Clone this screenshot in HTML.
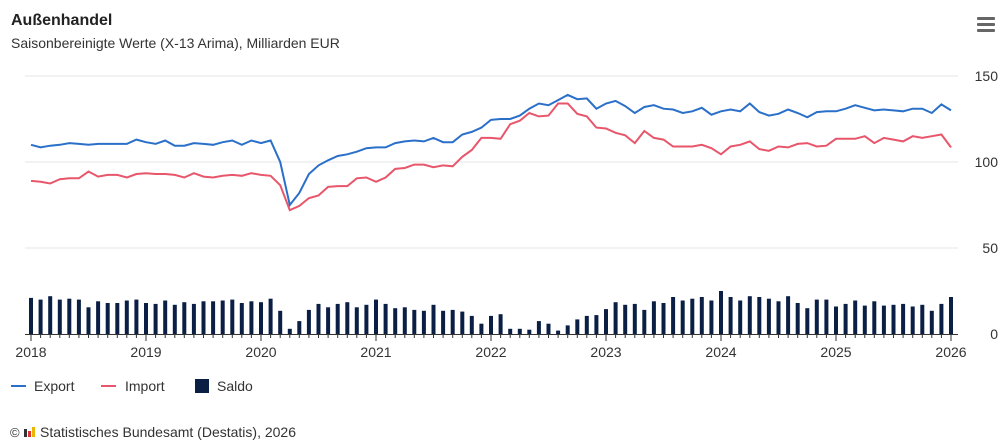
<!DOCTYPE html>
<html><head><meta charset="utf-8"><style>
body{margin:0;background:#fff;font-family:"Liberation Sans",sans-serif;}
svg{display:block}
</style></head><body>
<svg id="c" width="1000" height="446" xmlns="http://www.w3.org/2000/svg" font-family="Liberation Sans, sans-serif">
<text x="11" y="25" font-size="16" font-weight="bold" fill="#222">Außenhandel</text>
<text x="11" y="48" font-size="14" fill="#333">Saisonbereinigte Werte (X-13 Arima), Milliarden EUR</text>
<g fill="#666"><rect x="977" y="17" width="18" height="3" rx="1"/><rect x="977" y="23" width="18" height="3" rx="1"/><rect x="977" y="29" width="18" height="3" rx="1"/></g>
<g stroke="#e6e6e6" stroke-width="1">
<line x1="25" x2="958" y1="76" y2="76"/><line x1="25" x2="958" y1="162" y2="162"/><line x1="25" x2="958" y1="248" y2="248"/>
</g>
<g font-size="14" fill="#333" text-anchor="end">
<text x="998" y="81">150</text><text x="998" y="167">100</text><text x="998" y="253">50</text><text x="998" y="339">0</text>
</g>
<g id="bars" fill="#0b1f45"></g>
<g id="ticks" stroke="#333"></g>
<line x1="25" x2="958" y1="334.5" y2="334.5" stroke="#333" stroke-width="1"/>
<polyline id="imp" fill="none" stroke="#e8566b" stroke-width="2"/>
<polyline id="exp" fill="none" stroke="#2a70c9" stroke-width="2"/>
<g id="yl" font-size="14" fill="#333" text-anchor="middle"></g>
<line x1="11" x2="26" y1="386" y2="386" stroke="#2a70c9" stroke-width="2"/>
<text x="34" y="391" font-size="14" fill="#333">Export</text>
<line x1="101" x2="116" y1="386" y2="386" stroke="#e8566b" stroke-width="2"/>
<text x="125" y="391" font-size="14" fill="#333">Import</text>
<rect x="195" y="379" width="14" height="14" fill="#0b1f45"/>
<text x="217" y="391" font-size="14" fill="#333">Saldo</text>
<text x="10" y="437" font-size="13" fill="#333">©</text>
<rect x="24" y="429" width="3" height="8" fill="#333"/><rect x="28" y="431" width="3" height="6" fill="#d33"/><rect x="32" y="427" width="3" height="10" fill="#e8b500"/>
<text x="40" y="437" font-size="14" fill="#333">Statistisches Bundesamt (Destatis), 2026</text>
</svg>
<script>
var E=[110,108.5,109.5,110,111,110.5,110,110.5,110.5,110.5,110.5,113,
111.5,110.5,112.5,109.5,109.5,111,110.5,110,111.5,112.5,110,112.5,
111,112.5,100,75,82,93,98,101,103.5,104.5,106,108,
108.5,108.5,111,112,112.5,112,114,111.5,111.5,116,117.5,120,
124.5,125,125,127,131,134,133,136,139,136.5,137,131,
134,135.5,132.5,128.5,132,133,131,130.5,128.5,129.5,131.5,127.5,
129.5,130.5,129.5,134,129,127,128,130.5,128.5,126,129,129.5,
129.5,131,133,131.5,130,130.5,130,129.5,131,131,128.5,133.5,130];
var I=[89,88.5,87.5,90,90.5,90.5,94.5,91.5,92.5,92.5,91,93,
93.5,93,93,92.5,91,93.5,91.5,91,92,92.5,92,93.5,
92.5,92,86.5,72,74.5,79,80.5,85.5,86,86,90.5,91,
88.5,91,96,96.5,98.5,98.5,97,98,97.5,103,107,114,
114,113.5,122,124,128.5,126.5,127,134,134,128,126.5,120,
119.5,117,115.5,111,118,114,113,109,109,109,110,108,
104.5,109,110,112,107.5,106.5,109,108.5,110.5,111,109,109.5,
113.5,113.5,113.5,115,111,114,113,112,115,114,115,116,108.5];
var x0=31,st=920/96,k=1.72,b=334;
function X(i){return x0+i*st}function Y(v){return b-v*k}
var ns="http://www.w3.org/2000/svg";
document.getElementById('exp').setAttribute('points',E.map(function(v,i){return X(i).toFixed(1)+','+Y(v).toFixed(1)}).join(' '));
document.getElementById('imp').setAttribute('points',I.map(function(v,i){return X(i).toFixed(1)+','+Y(v).toFixed(1)}).join(' '));
var bg=document.getElementById('bars'),tg=document.getElementById('ticks'),yl=document.getElementById('yl');
for(var i=0;i<97;i++){var s=Math.max(E[i]-I[i],2);var r=document.createElementNS(ns,'rect');
r.setAttribute('x',(X(i)-2).toFixed(1));r.setAttribute('width',4);r.setAttribute('y',(b-s*k).toFixed(1));r.setAttribute('height',(s*k).toFixed(1));bg.appendChild(r);
var l=document.createElementNS(ns,'line');var yr=i%12==0;l.setAttribute('x1',X(i).toFixed(1));l.setAttribute('x2',X(i).toFixed(1));l.setAttribute('y1',334);l.setAttribute('y2',yr?341:338);tg.appendChild(l);
if(yr){var t=document.createElementNS(ns,'text');t.setAttribute('x',X(i).toFixed(1));t.setAttribute('y',357);t.textContent=2018+i/12;yl.appendChild(t);}}
</script>
</body></html>
